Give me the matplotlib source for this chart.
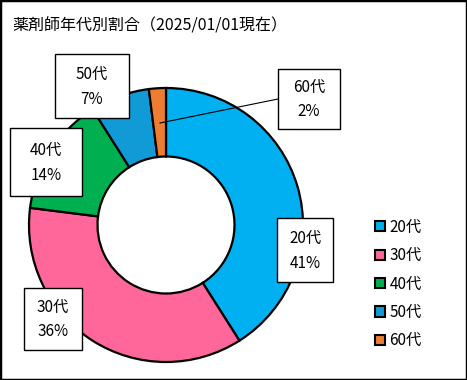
import matplotlib.pyplot as plt
from matplotlib.patches import Patch, Rectangle

plt.rcParams['font.family'] = ['Noto Sans CJK JP', 'DejaVu Sans']

labels = ['20代', '30代', '40代', '50代', '60代']
values = [41, 36, 14, 7, 2]
colors = ['#00B0F0', '#FF6699', '#00B050', '#109BD6', '#ED7D31']

# label box centres (pixels) and sizes
box_pos = [(305, 250), (53, 319), (46, 162), (92, 86), (309, 99)]
box_size = [(56, 64), (58, 62), (72, 68), (74, 64), (62, 60)]

W, H = 467, 380
cx, cy, R = 166, 225, 137

fig = plt.figure(figsize=(W / 100, H / 100), dpi=100)
ax = fig.add_axes([(cx - R) / W, (H - cy - R) / H, 2 * R / W, 2 * R / H])

ax.pie(values, colors=colors, startangle=90, counterclock=False, radius=1,
       wedgeprops=dict(width=0.5, edgecolor='black', linewidth=1.6))
ax.set_xlim(-1, 1)
ax.set_ylim(-1, 1)
ax.set_aspect('equal')
ax.axis('off')

# leader line for 60代
fig.add_artist(plt.Line2D([160 / W, 278 / W], [1 - 123 / H, 1 - 99 / H],
                          color='black', lw=0.8))

for lab, v, (px, py), (bw, bh) in zip(labels, values, box_pos, box_size):
    fig.add_artist(Rectangle(((px - bw / 2) / W, 1 - (py + bh / 2) / H), bw / W, bh / H,
                             facecolor='white', edgecolor='black', lw=1))
    fig.text(px / W, 1 - (py - 12) / H, lab, ha='center', va='center', fontsize=11)
    fig.text(px / W, 1 - (py + 13) / H, f'{v}%', ha='center', va='center', fontsize=11)

fig.text(12 / W, 1 - 26 / H, '薬剤師年代別割合（2025/01/01現在）', fontsize=11.5,
         ha='left', va='center')

handles = [Patch(facecolor=c, edgecolor='black', lw=1.5) for c in colors]
fig.legend(handles, labels, loc='center left', bbox_to_anchor=(361 / W, 1 - 284 / H),
           frameon=False, handlelength=0.65, handleheight=0.65, handletextpad=0.3,
           labelspacing=0.75, fontsize=11)

fig.add_artist(Rectangle((0, 0), 1, 1, transform=fig.transFigure, fill=False,
                         edgecolor='black', lw=2.5))

fig.savefig('out.png', dpi=100)
